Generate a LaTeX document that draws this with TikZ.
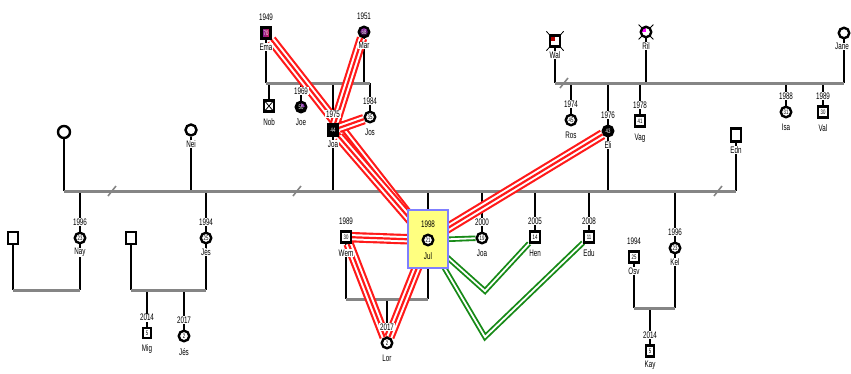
\documentclass[tikz,border=0pt]{standalone}
\usepackage{fontspec}
\setmainfont{Liberation Sans}[FakeStretch=0.66]
\usetikzlibrary{positioning}
\definecolor{GenoGrey}{HTML}{858585}
\definecolor{GenoRed}{HTML}{FF1A1A}
\definecolor{GenoGreen}{HTML}{178A17}
\definecolor{GenoYellow}{HTML}{FFFF80}
\definecolor{GenoBlue}{HTML}{7F7FFF}
\definecolor{GenoPurple}{HTML}{7A1FA0}
\definecolor{GenoMagenta}{HTML}{FF00FF}
\definecolor{GenoDarkRed}{HTML}{B00000}
\pgfdeclarelayer{back}
\pgfsetlayers{back,main}

\begin{document}
\begin{tikzpicture}[x=1pt,y=-1pt,node distance=5pt,
    male/.style={draw,line width=2.4pt,fill=white,minimum width=9.5pt,minimum height=11pt,inner sep=0pt,font=\fontsize{6.5}{7}\selectfont},
    female/.style={circle,draw,line width=2.4pt,fill=white,minimum size=10.5pt,inner sep=0pt,font=\fontsize{6.5}{7}\selectfont},
    lbl/.style={fill=white,inner sep=0.6pt,font=\fontsize{9.5}{10}\selectfont},
    kin/.style={line width=2pt},
    marr/.style={draw=GenoGrey,line width=3pt},
    slash/.style={draw=GenoGrey,line width=1.6pt},
    hostile/.style={draw=GenoRed,line width=10.5pt,postaction={draw=white,line width=6.2pt},postaction={draw=GenoRed,line width=2.2pt}},
    close/.style={draw=GenoGreen,line width=5.5pt,postaction={draw=white,line width=1.8pt}}]
  \useasboundingbox (0,0) rectangle (851,373);
  \coordinate (tl) at (0,83);
  \coordinate (tr) at (0,83);
  \coordinate (mn) at (0,191);
  \coordinate (nl) at (0,290);
  \coordinate (wl) at (0,299);
  \coordinate (kl) at (0,308);
  \coordinate (vhen) at (485,291);
  \coordinate (vedu) at (485,337);

  \node[male,left color=GenoPurple,right color=GenoRed!70!GenoPurple,text=white,line width=2.8pt] (ema) at (266,33) {70};
  \node[lbl,above=of ema] (emay) {1949};
  \node[lbl,below=3pt of ema] (eman) {Ema};
  \node[female,top color=GenoPurple!70!GenoMagenta,bottom color=black,text=white] (mar) at (364,32) {68};
  \node[lbl,above=of mar] (mary) {1951};
  \node[lbl,below=3pt of mar] (marn) {Mar};
  \node[male,path picture={\draw[line width=0.8pt] (path picture bounding box.north west) -- (path picture bounding box.south east) (path picture bounding box.north east) -- (path picture bounding box.south west);}] (nob) at (269,106) {};
  \node[lbl,below=of nob] (nobn) {Nob};
  \node[female,fill=black,text=white,path picture={\fill[GenoPurple] (path picture bounding box.north east) rectangle (path picture bounding box.center);}] (joe) at (301,107) {50};
  \node[lbl,above=of joe] (joey) {1969};
  \node[lbl,below=of joe] (joen) {Joe};
  \node[male,fill=black,text=white] (joat) at (333,130) {44};
  \node[lbl,above=of joat] (joaty) {1975};
  \node[lbl,below=3pt of joat] (joatn) {Joa};
  \node[female] (jos) at (370,117) {35};
  \node[lbl,above=of jos] (josy) {1984};
  \node[lbl,below=of jos] (josn) {Jos};

  \node[male,path picture={\fill[GenoDarkRed] (path picture bounding box.north west) rectangle (path picture bounding box.center);}] (wal) at (555,41) {};
  \node[lbl,below=3pt of wal] (waln) {Wal};
  \node[female,path picture={\fill[GenoMagenta] (path picture bounding box.north west) rectangle (path picture bounding box.center);}] (ril) at (646,32) {};
  \node[lbl,below=3pt of ril] (riln) {Ril};
  \node[female] (jane) at (844,33) {};
  \node[lbl,below=3pt of jane,xshift=-2pt] (janen) {Jane};
  \node[female] (ros) at (571,120) {45};
  \node[lbl,above=of ros] (rosy) {1974};
  \node[lbl,below=of ros] (rosn) {Ros};
  \node[female,fill=black,text=white] (eli) at (608,131) {43};
  \node[lbl,above=of eli] (eliy) {1976};
  \node[lbl,below=3pt of eli] (elin) {Eli};
  \node[male] (vag) at (640,121) {41};
  \node[lbl,above=of vag] (vagy) {1978};
  \node[lbl,below=of vag] (vagn) {Vag};
  \node[female] (isa) at (786,112) {31};
  \node[lbl,above=of isa] (isay) {1988};
  \node[lbl,below=of isa] (isan) {Isa};
  \node[male] (val) at (823,112) {30};
  \node[lbl,above=of val] (valy) {1989};
  \node[lbl,below=of val] (valn) {Val};

  \node[female,minimum size=12pt] (lw) at (64,132) {};
  \node[female,minimum size=11pt] (nei) at (191,130) {};
  \node[lbl,below=3pt of nei] (nein) {Nei};
  \node[male,minimum height=13pt] (edn) at (736,135) {};
  \node[lbl,below=3pt of edn] (ednn) {Edn};

  \node[male,minimum height=12pt] (nayp) at (13,238) {};
  \node[female] (nay) at (80,238) {23};
  \node[lbl,above=of nay] (nayy) {1996};
  \node[lbl,below=3pt of nay] (nayn) {Nay};
  \node[male,minimum height=12pt] (jesp) at (131,238) {};
  \node[female] (jesa) at (206,238) {25};
  \node[lbl,above=of jesa] (jesay) {1994};
  \node[lbl,below=3pt of jesa] (jesan) {Jés};
  \node[male,minimum width=8pt,minimum height=10pt] (mig) at (147,333) {5};
  \node[lbl,above=of mig] (migy) {2014};
  \node[lbl,below=of mig] (mign) {Mig};
  \node[female] (jesc) at (184,336) {2};
  \node[lbl,above=of jesc] (jescy) {2017};
  \node[lbl,below=of jesc] (jescn) {Jés};

  \node[male] (wem) at (346,237) {30};
  \node[lbl,above=of wem] (wemy) {1989};
  \node[lbl,below=of wem] (wemn) {Wem};
  \node[draw=GenoBlue,fill=GenoYellow,line width=2pt,minimum width=40pt,minimum height=58pt] (julbox) at (428,239) {};
  \node[female] (jul) at (428,240) {21};
  \node[lbl,fill=none,above=of jul] (july) {1998};
  \node[lbl,fill=none,below=of jul] (juln) {Jul};
  \node[female] (lor) at (387,343) {2};
  \node[lbl,above=of lor] (lory) {2017};
  \node[lbl,below=of lor] (lorn) {Lor};
  \node[female] (joac) at (482,238) {19};
  \node[lbl,above=of joac] (joacy) {2000};
  \node[lbl,below=of joac] (joacn) {Joa};
  \node[male] (hen) at (535,237) {14};
  \node[lbl,above=of hen] (heny) {2005};
  \node[lbl,below=of hen] (henn) {Hen};
  \node[male] (edu) at (589,237) {11};
  \node[lbl,above=of edu] (eduy) {2008};
  \node[lbl,below=of edu] (edun) {Edu};

  \node[male] (osv) at (634,257) {25};
  \node[lbl,above=of osv] (osvy) {1994};
  \node[lbl,below=3pt of osv] (osvn) {Osv};
  \node[female] (kel) at (675,248) {23};
  \node[lbl,above=of kel] (kely) {1996};
  \node[lbl,below=3pt of kel] (keln) {Kel};
  \node[male,minimum width=8pt,minimum height=11pt] (kay) at (650,351) {5};
  \node[lbl,above=of kay] (kayy) {2014};
  \node[lbl,below=2pt of kay] (kayn) {Kay};

  \begin{pgfonlayer}{back}
    \draw[kin] (ema) -- (ema |- tl);
    \draw[kin] (mar) -- (mar |- tl);
    \foreach \c in {nob,joe,joat,jos} \draw[kin] (\c |- tl) -- (\c);
    \draw[marr] (ema |- tl) -- (jos |- tl);

    \draw[line width=0.8pt,shorten <=-4pt,shorten >=-4pt] (wal.north west) -- (wal.south east);
    \draw[line width=0.8pt,shorten <=-4pt,shorten >=-4pt] (wal.north east) -- (wal.south west);
    \draw[line width=0.8pt,shorten <=-4pt,shorten >=-4pt] (ril.north west) -- (ril.south east);
    \draw[line width=0.8pt,shorten <=-4pt,shorten >=-4pt] (ril.north east) -- (ril.south west);
    \foreach \c in {wal,ril,jane} \draw[kin] (\c) -- (\c |- tr);
    \foreach \c in {ros,eli,vag,isa,val} \draw[kin] (\c |- tr) -- (\c);
    \draw[marr] (wal |- tr) -- (jane |- tr);

    \foreach \c in {lw,nei,joat,eli,edn} \draw[kin] (\c) -- (\c |- mn);
    \foreach \c in {nay,jesa,julbox,joac,hen,edu,kel} \draw[kin] (\c |- mn) -- (\c);
    \draw[marr] (lw |- mn) -- (edn |- mn);

    \foreach \c in {nayp,nay,jesp,jesa} \draw[kin] (\c) -- (\c |- nl);
    \foreach \c in {mig,jesc} \draw[kin] (\c |- nl) -- (\c);
    \draw[marr] (nayp |- nl) -- (nay |- nl);
    \draw[marr] (jesp |- nl) -- (jesa |- nl);

    \foreach \c in {wem,julbox} \draw[kin] (\c) -- (\c |- wl);
    \draw[kin] (lor |- wl) -- (lor);
    \draw[marr] (wem |- wl) -- (julbox |- wl);

    \foreach \c in {osv,kel} \draw[kin] (\c) -- (\c |- kl);
    \draw[kin] (kay |- kl) -- (kay);
    \draw[marr] (osv |- kl) -- (kel |- kl);

    \foreach \sx/\sy in {112/191,297/191,718/191,564/83}
      \draw[slash] (\sx-4,\sy+5) -- (\sx+4,\sy-5);

    \draw[hostile] (ema) -- (jul);
    \draw[hostile] (joat) -- (jul);
    \draw[hostile] (mar) -- (joat);
    \draw[hostile] (jos) -- (joat);
    \draw[hostile] (eli) -- (jul);
    \draw[hostile] (wem) -- (jul);
    \draw[hostile] (wem) -- (lor);
    \draw[hostile] (jul) -- (lor);

    \draw[close] (jul) -- (joac);
    \draw[close] (jul) -- (vhen) -- (hen);
    \draw[close] (jul) -- (vedu) -- (edu);
  \end{pgfonlayer}
\end{tikzpicture}
\end{document}
